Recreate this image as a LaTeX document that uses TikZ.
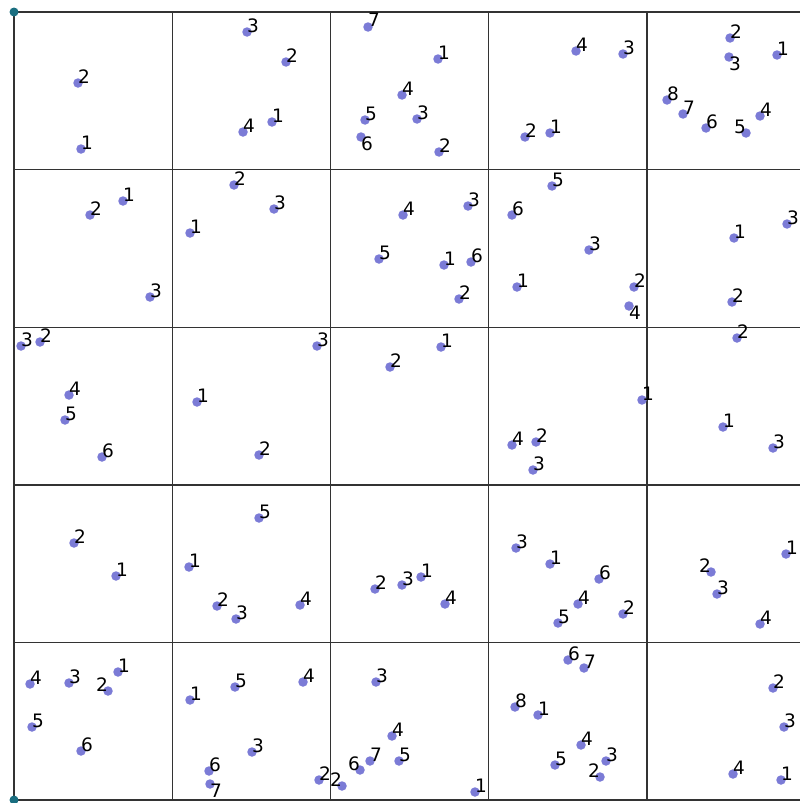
\documentclass[tikz,border=0pt]{standalone}
\usepackage{fontspec}
\usepackage{xcolor}
\usetikzlibrary{calc}
\newfontfamily\numfont{DejaVu Sans}
\definecolor{ptblue}{HTML}{7B7BD6}
\definecolor{cornerteal}{HTML}{1A6E80}
\definecolor{gridgray}{HTML}{333333}

\begin{document}
\begin{tikzpicture}[
    x=1pt, y=-1pt,
    gridline/.style={draw=gridgray, line width=1.4pt},
    pt/.style={circle, fill=ptblue, inner sep=0pt, minimum size=9.5pt},
    corner/.style={circle, fill=cornerteal, inner sep=0pt, minimum size=9pt},
    num/.style={font=\numfont\fontsize{18.5}{18.5}\selectfont, inner sep=0pt, text=black}
  ]
  \useasboundingbox (0,0) rectangle (800,803);
  \clip (0,0) rectangle (800,803);

  % cell grid
  \foreach \i in {0,...,5}
    \draw[gridline] ({14+158.25*\i},12) -- ({14+158.25*\i},800);
  \foreach \j in {0,...,5}
    \draw[gridline] (14,{12+157.6*\j}) -- (805.25,{12+157.6*\j});

  \node[corner] (cornerTL) at (14,12) {};
  \node[corner] (cornerBL) at (14,800) {};

  % points: x / y / number / label anchor
  \foreach \px/\py/\n/\a in {
      78/83/2/base west, 81/149/1/base west,
      247/32/3/base west, 286/62/2/base west, 272/122/1/base west, 243/132/4/base west,
      368/27/7/base west, 365/120/5/base west, 361/137/6/north west,
      438/59/1/base west, 402/95/4/base west, 417/119/3/base west, 439/152/2/base west,
      576/51/4/base west, 623/54/3/base west, 525/137/2/base west, 550/133/1/base west,
      730/38/2/base west, 729/57/3/north west, 777/55/1/base west, 667/100/8/base west,
      683/114/7/base west, 706/128/6/base west, 746/133/5/base east, 760/116/4/base west,
      % row 2
      123/201/1/base west, 90/215/2/base west, 150/297/3/base west,
      234/185/2/base west, 274/209/3/base west, 190/233/1/base west,
      379/259/5/base west, 403/215/4/base west, 468/206/3/base west, 444/265/1/base west,
      471/262/6/base west, 459/299/2/base west,
      552/186/5/base west, 512/215/6/base west, 589/250/3/base west, 517/287/1/base west,
      634/287/2/base west, 629/306/4/north west,
      787/224/3/base west, 734/238/1/base west, 732/302/2/base west,
      % row 3
      21/346/3/base west, 40/342/2/base west, 69/395/4/base west, 65/420/5/base west,
      102/457/6/base west,
      317/346/3/base west, 197/402/1/base west, 259/455/2/base west,
      390/367/2/base west, 441/347/1/base west,
      642/400/1/base west, 512/445/4/base west, 536/442/2/base west, 533/470/3/base west,
      737/338/2/base west, 723/427/1/base west, 773/448/3/base west,
      % row 4
      74/543/2/base west, 116/576/1/base west,
      259/518/5/base west, 189/567/1/base west, 217/606/2/base west, 236/619/3/base west,
      300/605/4/base west,
      375/589/2/base west, 402/585/3/base west, 421/577/1/base west, 445/604/4/base west,
      516/548/3/base west, 550/564/1/base west, 599/579/6/base west, 578/604/4/base west,
      558/623/5/base west, 623/614/2/base west,
      786/554/1/base west, 711/572/2/base east, 717/594/3/base west, 760/624/4/base west,
      % row 5
      30/684/4/base west, 69/683/3/base west, 108/691/2/base east, 118/672/1/base west,
      32/727/5/base west, 81/751/6/base west,
      190/700/1/base west, 235/687/5/base west, 303/682/4/base west, 252/752/3/base west,
      209/771/6/base west, 210/784/7/north west, 319/780/2/base west,
      376/682/3/base west, 342/786/2/base east, 360/770/6/base east, 370/761/7/base west,
      392/736/4/base west, 399/761/5/base west, 475/792/1/base west,
      568/660/6/base west, 584/668/7/base west, 515/707/8/base west, 538/715/1/base west,
      581/745/4/base west, 606/761/3/base west, 555/765/5/base west, 600/777/2/base east,
      773/688/2/base west, 784/727/3/base west, 733/774/4/base west, 781/780/1/base west}
  {
    \node[pt] (d\px-\py) at (\px,\py) {};
    \node[num, anchor=\a] (l\px-\py) at (d\px-\py.center) {\n};
  }
\end{tikzpicture}
\end{document}
